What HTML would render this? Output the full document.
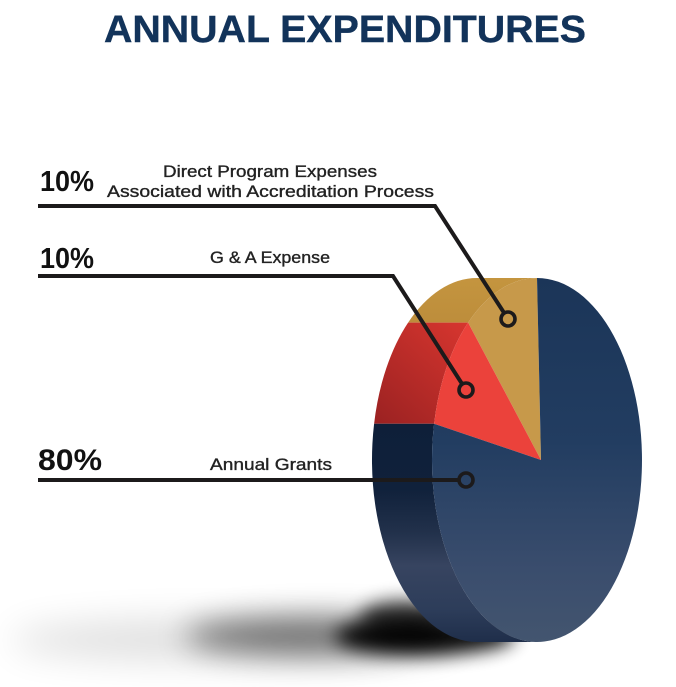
<!DOCTYPE html>
<html><head><meta charset="utf-8"><style>
html,body{margin:0;padding:0;background:#fff;}
svg{display:block;}
</style></head><body>
<svg width="676" height="687" viewBox="0 0 676 687" xmlns="http://www.w3.org/2000/svg">
<defs>
<filter id="b1" x="-50%" y="-100%" width="200%" height="300%"><feGaussianBlur stdDeviation="9"/></filter>
<filter id="b2" x="-50%" y="-100%" width="200%" height="300%"><feGaussianBlur stdDeviation="15"/></filter>
<filter id="b3" x="-50%" y="-100%" width="200%" height="300%"><feGaussianBlur stdDeviation="18"/></filter>
<linearGradient id="navyFace" gradientUnits="userSpaceOnUse" x1="0" y1="278" x2="0" y2="642">
<stop offset="0" stop-color="#1b3558"/><stop offset="0.45" stop-color="#223d61"/><stop offset="0.8" stop-color="#3a4d6d"/><stop offset="1" stop-color="#43556f"/>
</linearGradient>
<linearGradient id="navySide" gradientUnits="userSpaceOnUse" x1="0" y1="424" x2="0" y2="642">
<stop offset="0" stop-color="#0e1f39"/><stop offset="0.3" stop-color="#10213b"/><stop offset="0.5" stop-color="#22314b"/><stop offset="0.65" stop-color="#374460"/><stop offset="0.85" stop-color="#2d3d5a"/><stop offset="1" stop-color="#1f2e4a"/>
</linearGradient>
<linearGradient id="redSide" gradientUnits="userSpaceOnUse" x1="470" y1="322" x2="380" y2="424">
<stop offset="0" stop-color="#d8362f"/><stop offset="1" stop-color="#9c2222"/>
</linearGradient>
<linearGradient id="goldSide" gradientUnits="userSpaceOnUse" x1="0" y1="278" x2="0" y2="323">
<stop offset="0" stop-color="#c4953f"/><stop offset="1" stop-color="#bd8d3b"/>
</linearGradient>
</defs>

<!-- shadow -->
<ellipse cx="210" cy="640" rx="200" ry="20" fill="#000" opacity="0.13" filter="url(#b3)"/>
<ellipse cx="320" cy="636" rx="135" ry="20" fill="#000" opacity="0.5" filter="url(#b2)"/>
<ellipse cx="425" cy="636" rx="90" ry="19" fill="#000" opacity="0.95" filter="url(#b1)"/>
<ellipse cx="405" cy="618" rx="45" ry="18" fill="#000" opacity="0.7" filter="url(#b1)"/>

<!-- side band -->
<path d="M537 278 A105 182 0 0 0 468.1 322.6 L408.1 322.6 A105 182 0 0 1 477 278 Z" fill="url(#goldSide)"/>
<path d="M468.1 322.6 A105 182 0 0 0 434.1 423.7 L374.1 423.7 A105 182 0 0 1 408.1 322.6 Z" fill="url(#redSide)"/>
<path d="M434.1 423.7 A105 182 0 0 0 537 642 L477 642 A105 182 0 0 1 374.1 423.7 Z" fill="url(#navySide)"/>

<!-- face -->
<path d="M541 460 L537 278 A105 182 0 0 0 468.1 322.6 Z" fill="#c7994a"/>
<path d="M541 460 L468.1 322.6 A105 182 0 0 0 434.1 423.7 Z" fill="#eb423b"/>
<path d="M541 460 L434.1 423.7 A105 182 0 1 0 537 278 Z" fill="url(#navyFace)"/>

<!-- leader lines -->
<g fill="none" stroke="#1c1a1b" stroke-width="4" stroke-linejoin="miter">
<path d="M38 206 L435 206 L504.2 313.1"/>
<path d="M38 276 L393 276 L462.2 384.1"/>
<path d="M38 480 L459 480"/>
<circle cx="508" cy="319" r="7" stroke-width="3.6"/>
<circle cx="466" cy="390" r="7" stroke-width="3.6"/>
<circle cx="466" cy="480" r="7" stroke-width="3.6"/>
</g>

<!-- text -->
<text x="104" y="42" font-family="Liberation Sans, sans-serif" font-weight="bold" font-size="38" fill="#12335a" stroke="#12335a" stroke-width="0.4" textLength="482" lengthAdjust="spacingAndGlyphs">ANNUAL EXPENDITURES</text>

<g font-family="Liberation Sans, sans-serif" fill="#111">
<text x="40" y="191" font-weight="bold" font-size="29" textLength="54" lengthAdjust="spacingAndGlyphs">10%</text>
<text x="40" y="268" font-weight="bold" font-size="29" textLength="54" lengthAdjust="spacingAndGlyphs">10%</text>
<text x="38" y="470" font-weight="bold" font-size="30" textLength="64" lengthAdjust="spacingAndGlyphs">80%</text>
</g>
<g font-family="Liberation Sans, sans-serif" fill="#222" stroke="#222" stroke-width="0.35" font-size="16.5">
<text x="163" y="177" textLength="214" lengthAdjust="spacingAndGlyphs">Direct Program Expenses</text>
<text x="107" y="197" textLength="327" lengthAdjust="spacingAndGlyphs">Associated with Accreditation Process</text>
<text x="210" y="263" textLength="120" lengthAdjust="spacingAndGlyphs">G &amp; A Expense</text>
<text x="210" y="470" textLength="122" lengthAdjust="spacingAndGlyphs">Annual Grants</text>
</g>
</svg>
</body></html>
